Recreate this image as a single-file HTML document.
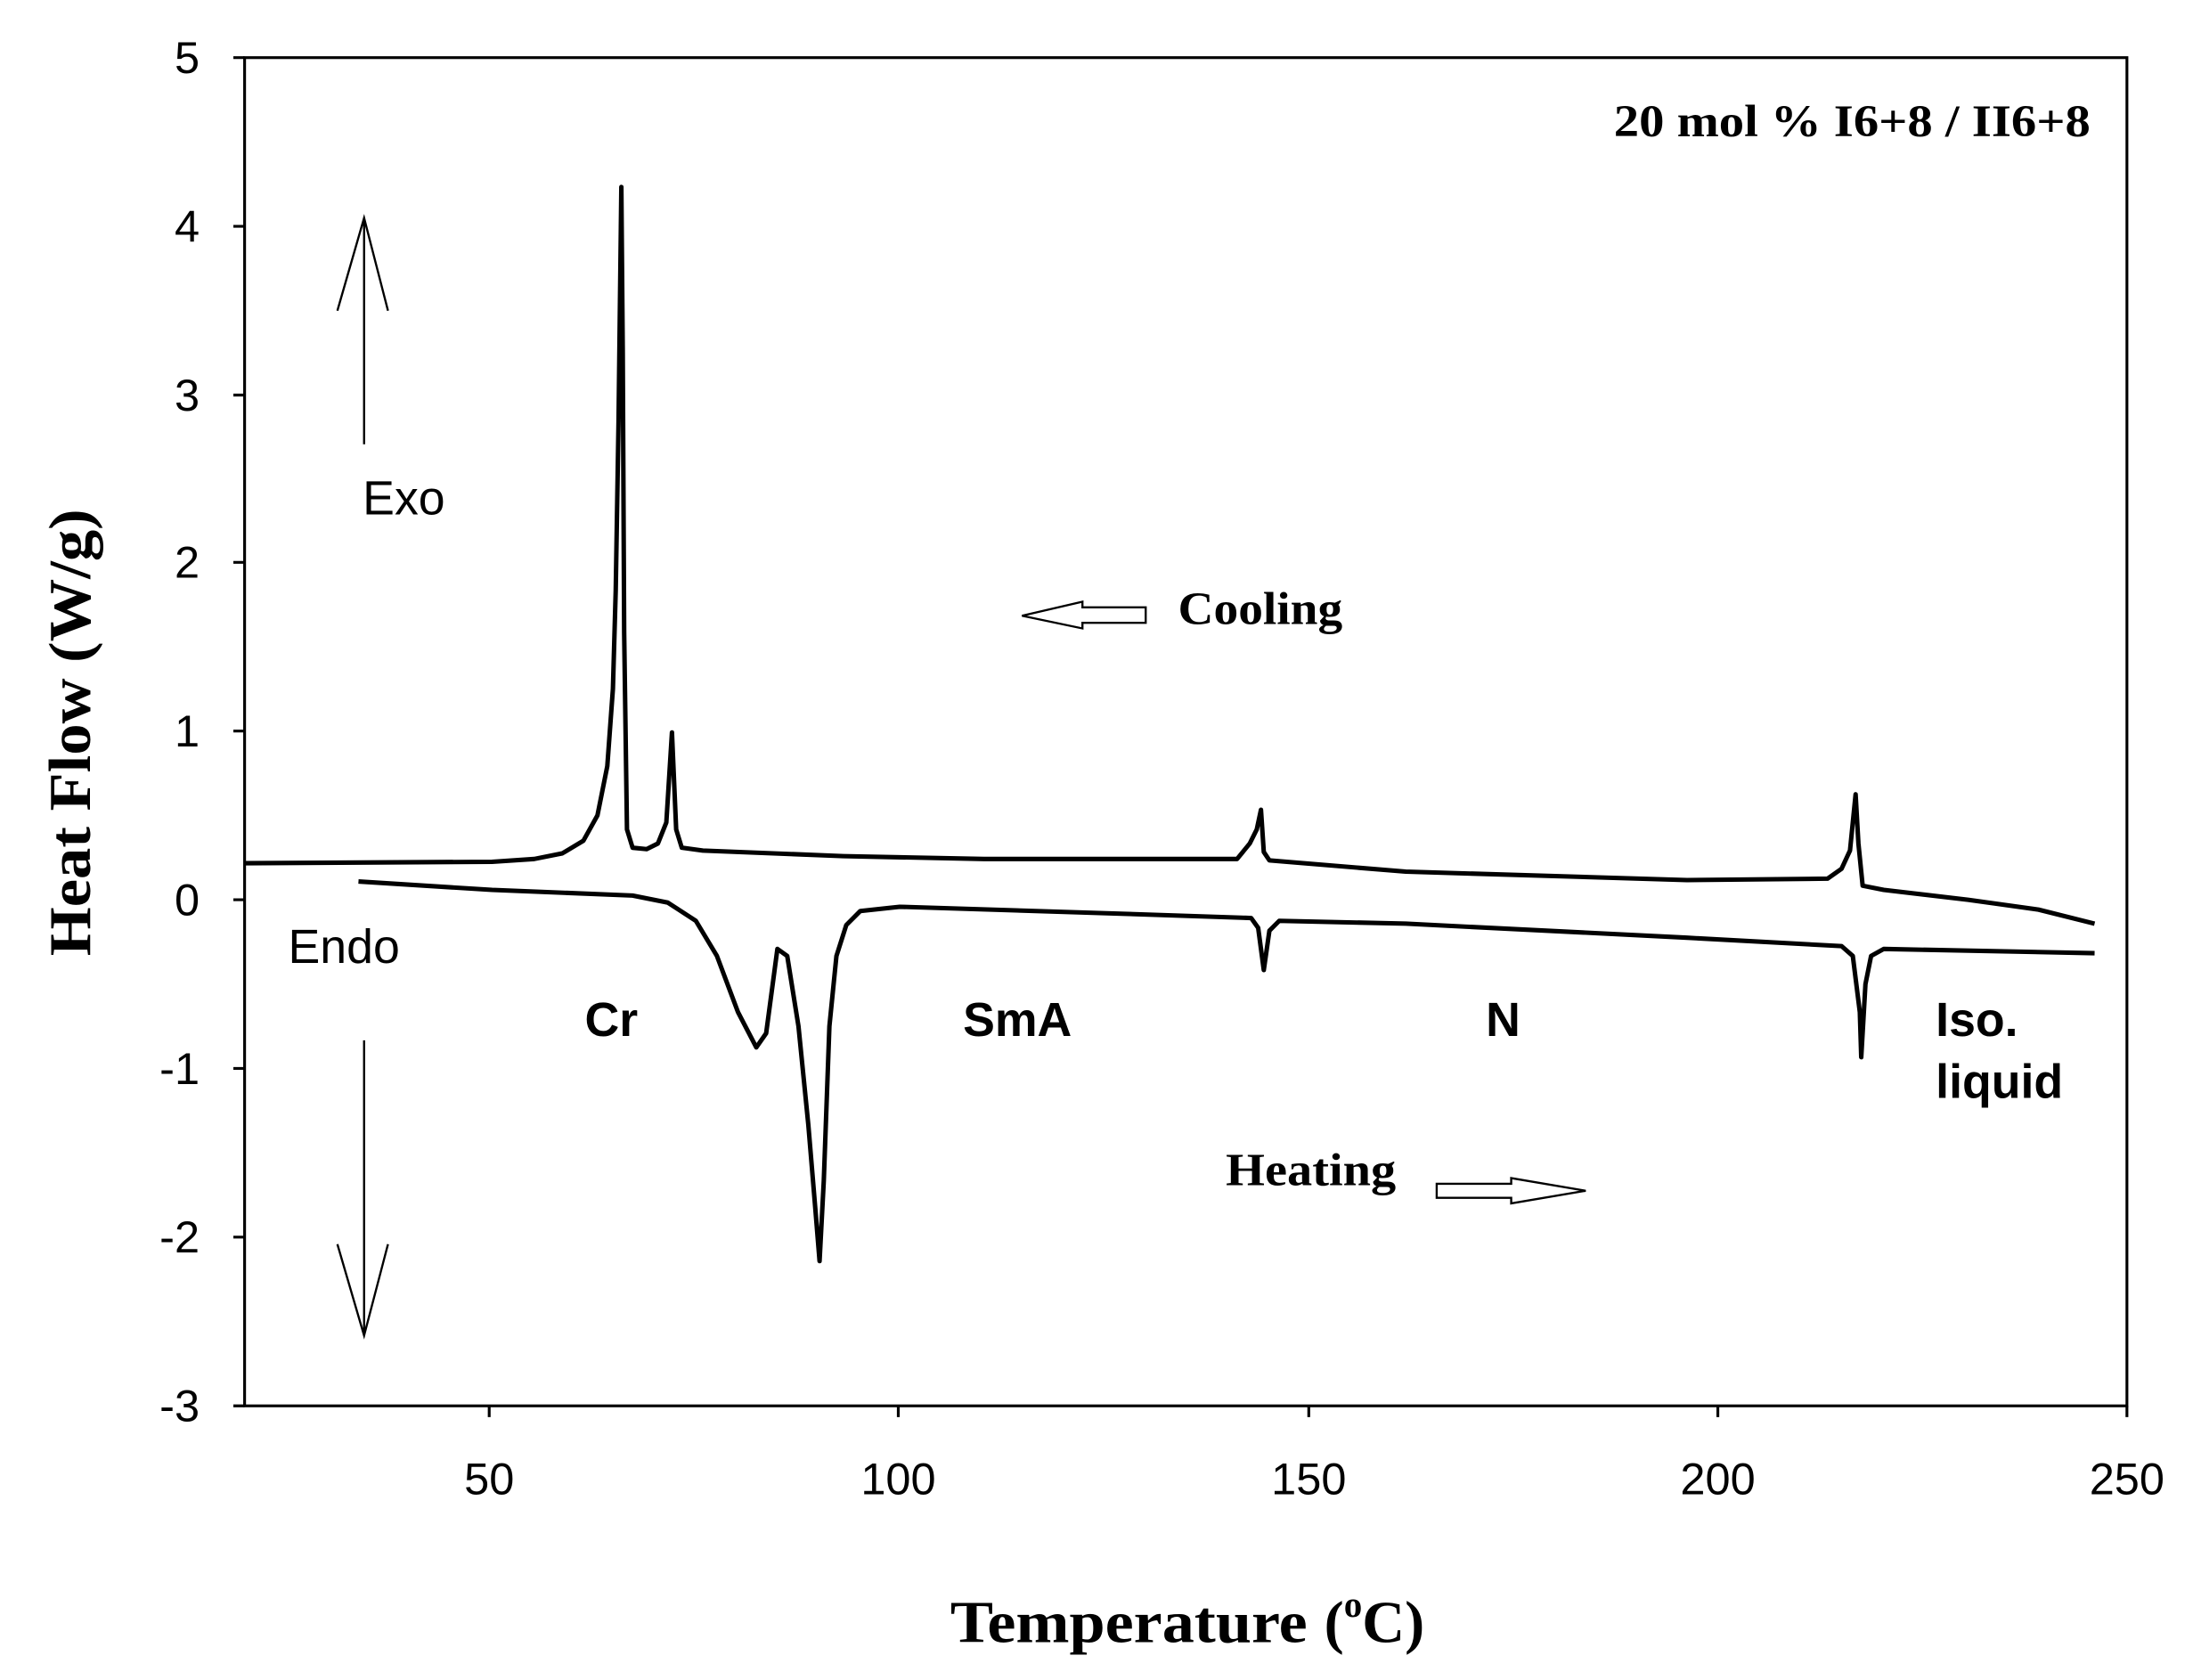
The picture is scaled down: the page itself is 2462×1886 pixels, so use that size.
<!DOCTYPE html>
<html><head><meta charset="utf-8"><style>html,body{margin:0;padding:0;background:#fff}svg{display:block}</style></head><body>
<svg width="2462" height="1886" viewBox="0 0 1560 1195" preserveAspectRatio="none" xmlns="http://www.w3.org/2000/svg">
<rect width="1560" height="1195" fill="#fff"/>
<g stroke="#000" stroke-width="2" fill="none">
<rect x="174" y="41" width="1339" height="959"/>
<path d="M174 41h-8M174 161h-8M174 281h-8M174 400h-8M174 520h-8M174 640h-8M174 760h-8M174 880h-8M174 1000h-8"/>
<path d="M348 1000v8M639 1000v8M931 1000v8M1222 1000v8M1513 1000v8"/>
</g>
<g font-family="Liberation Sans, sans-serif" font-size="32" fill="#000" text-anchor="end">
<text x="142" y="52">5</text><text x="142" y="172">4</text><text x="142" y="292">3</text><text x="142" y="411">2</text><text x="142" y="531">1</text><text x="142" y="651">0</text><text x="142" y="771">-1</text><text x="142" y="891">-2</text><text x="142" y="1011">-3</text>
</g>
<g font-family="Liberation Sans, sans-serif" font-size="32" fill="#000" text-anchor="middle">
<text x="348" y="1063">50</text><text x="639" y="1063">100</text><text x="931" y="1063">150</text><text x="1222" y="1063">200</text><text x="1513" y="1063">250</text>
</g>
<text x="676" y="1168" font-family="Liberation Serif, serif" font-weight="bold" font-size="42" textLength="254" lengthAdjust="spacingAndGlyphs">Temperature</text>
<text x="942" y="1168" font-family="Liberation Serif, serif" font-weight="bold" font-size="42">(<tspan font-size="26" dy="-18">o</tspan><tspan dy="18">C)</tspan></text>
<text transform="translate(64,521) rotate(-90)" font-family="Liberation Serif, serif" font-weight="bold" font-size="42" text-anchor="middle" textLength="318" lengthAdjust="spacingAndGlyphs">Heat Flow (W/g)</text>
<text x="1148" y="97" font-family="Liberation Serif, serif" font-weight="bold" font-size="32" textLength="339" lengthAdjust="spacingAndGlyphs">20 mol % I6+8 / II6+8</text>
<g font-family="Liberation Sans, sans-serif" font-size="34">
<text x="258" y="366">Exo</text><text x="205" y="685">Endo</text>
</g>
<g font-family="Liberation Sans, sans-serif" font-weight="bold" font-size="34">
<text x="416" y="737">Cr</text><text x="685" y="737">SmA</text><text x="1057" y="737">N</text><text x="1377" y="737">Iso.</text><text x="1377" y="781">liquid</text>
</g>
<g font-family="Liberation Serif, serif" font-weight="bold" font-size="33">
<text x="838" y="444" textLength="117" lengthAdjust="spacingAndGlyphs">Cooling</text><text x="872" y="843" textLength="121" lengthAdjust="spacingAndGlyphs">Heating</text>
</g>
<g stroke="#000" stroke-width="1.5" fill="none">
<path d="M259 316V155M240 221L259 155L276 221"/>
<path d="M259 740V950M240 885L259 950L276 885"/>
<path d="M815 432H770V428L727 438L770 447V443H815Z"/>
<path d="M1022 842H1075V838L1128 847L1075 856V852H1022Z"/>
</g>
<g stroke="#000" stroke-width="3.2" fill="none" stroke-linejoin="round">
<path d="M174 614L350 613L380 611L400 607L415 598L425 580L432 545L436 490L438 420L440 300L442 133L443 250L444 450L446 590L450 603L460 604L468 600L474 585L478 521L481 590L485 603L500 605L600 609L700 611L880 611L889 600L894 590L897 576L899 606L903 612L1000 620L1200 626L1300 625L1310 618L1316 605L1320 565L1322 600L1325 630L1340 633L1400 640L1450 647L1490 657"/>
<path d="M255 627L350 633L450 637L475 642L495 655L510 680L525 720L538 745L545 735L553 675L560 680L568 730L575 800L580 860L583 897L586 840L590 730L595 680L602 658L612 648L640 645L800 650L890 653L895 660L899 690L903 662L910 655L1000 657L1200 667L1310 673L1318 680L1323 720L1324 752L1327 700L1331 680L1340 675L1490 678"/>
</g>
</svg>
</body></html>
